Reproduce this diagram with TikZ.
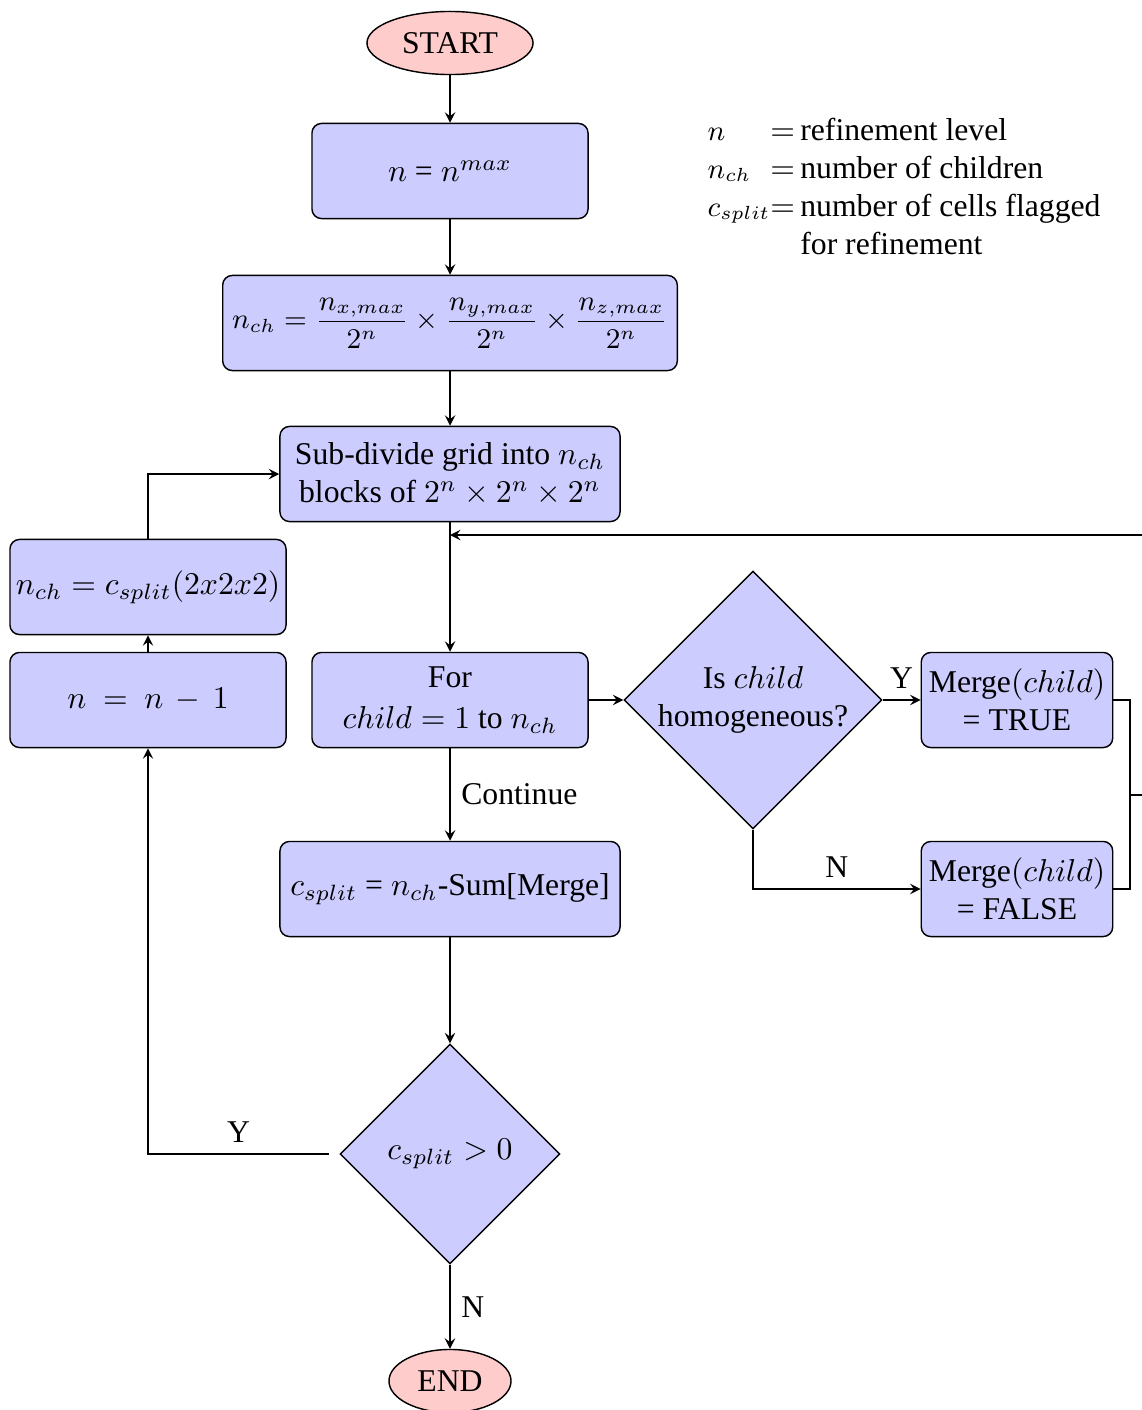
\documentclass[tikz,border=0pt]{standalone}
\usepackage[no-math]{fontspec}
\setmainfont{Liberation Serif}
\usepackage{amsmath}
\usetikzlibrary{shapes.geometric,arrows.meta}
\tikzset{
  pbox/.style={draw, fill=blue!20, rounded corners=3pt, minimum height=30pt, align=center, inner sep=3pt, line width=0.45pt},
  term/.style={ellipse, draw, fill=red!20, minimum height=19.9pt, inner sep=1pt, line width=0.45pt},
  dec/.style={diamond, draw, fill=blue!20, inner sep=0pt, align=center, line width=0.45pt},
  conn/.style={-stealth, line width=0.45pt},
  plain/.style={line width=0.45pt}
}
\newcommand{\smallmath}[1]{{\fontsize{9pt}{11pt}\selectfont$#1$}}
\begin{document}
\begin{tikzpicture}[x=0.3155pt, y=-0.3155pt]
\useasboundingbox (0,0) rectangle (1141,1410);
\node[term, minimum width=52.4pt] (start) at (450,43) {START};
\node[pbox, minimum width=87.1pt] (b1) at (450,171) {$n$ = $n^{max}$};
\node[pbox, minimum width=137.2pt, font=\fontsize{9.1pt}{11pt}\selectfont] (b2) at (450,323) {$n_{ch} = \dfrac{n_{x,max}}{2^n}\times\dfrac{n_{y,max}}{2^n}\times\dfrac{n_{z,max}}{2^n}$};
\node[pbox, minimum width=107.3pt] (b3) at (450,474) {Sub-divide grid into $n_{ch}$\\blocks of $2^n\times2^n\times2^n$};
\node[pbox, minimum width=87.1pt, inner sep=1.8pt] (bnch) at (148,587) {$n_{ch} = c_{split}(2x2x2)$};
\node[pbox, minimum width=87.1pt] (bn) at (148,700) {$n\ =\ n\,-\,1$};
\node[pbox, minimum width=87.1pt] (bfor) at (450,700) {For\\[1pt]$child = 1$ to $n_{ch}$};
\node[dec, minimum size=81.4pt] (d1) at (753,700) {Is $child$\\homogeneous?};
\node[pbox, minimum width=60pt, inner sep=2.4pt] (mt) at (1017,700) {Merge$(child)$\\= TRUE};
\node[pbox, minimum width=60pt, inner sep=2.4pt] (mf) at (1017,889) {Merge$(child)$\\= FALSE};
\node[pbox, minimum width=107.3pt] (bcs) at (450,889) {$c_{split}$ = $n_{ch}$-Sum[Merge]};
\node[dec, minimum size=69.4pt] (d2) at (450,1154) {$c_{split} > 0$};
\node[term, minimum width=38.5pt] (end) at (450,1381) {END};
\node[anchor=north west, inner sep=0pt] (leg) at (707,113) {\begin{tabular}{@{}l@{}l@{\,}l@{}}
\smallmath{n} & $=$ & refinement level\\
\smallmath{n_{ch}} & $=$ & number of children\\
\smallmath{c_{split}} & $=$ & number of cells flagged\\
 & & for refinement
\end{tabular}};
\draw[conn] (start) -- (b1);
\draw[conn] (b1) -- (b2);
\draw[conn] (b2) -- (b3);
\draw[conn] (b3) -- (bfor);
\draw[conn] (bfor) -- (d1);
\draw[conn] (d1) -- node[above]{Y} (mt);
\draw[conn] (d1.south) |- node[pos=0.75, above]{N} (mf.west);
\draw[conn] (bfor) -- node[right]{Continue} (bcs);
\draw[conn] (bcs) -- (d2);
\draw[conn] (d2) -- node[right]{N} (end);
\draw[conn] ([xshift=-3.2pt]d2.west) -| node[pos=0.25, above]{Y} (bn.south);
\draw[conn] (bn) -- (bnch);
\draw[conn] (bnch.north) |- (b3.west);
\coordinate (mj) at (1130,795);
\coordinate (rc1) at (1170,795);
\coordinate (rc2) at (1170,535);
\coordinate (lp) at (450,535);
\draw[plain] (mt.east) -| (mj);
\draw[plain] (mf.east) -| (mj);
\draw[conn] (mj) -- (rc1) -- (rc2) -- (lp);
\end{tikzpicture}
\end{document}
